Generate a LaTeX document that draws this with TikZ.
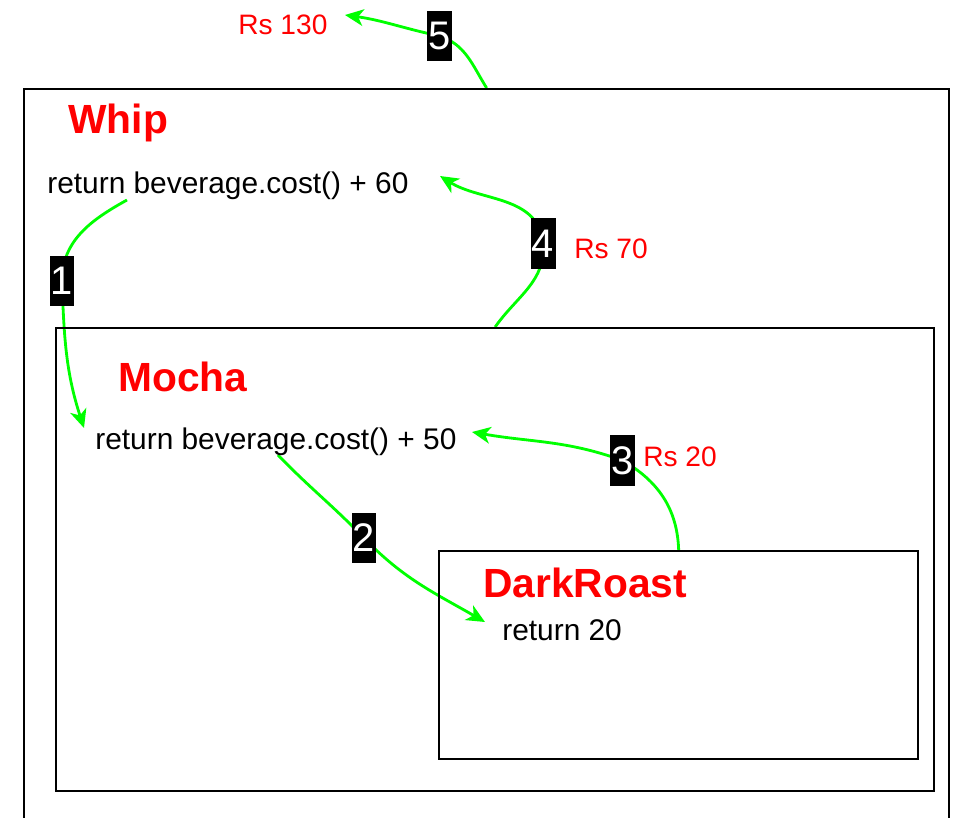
\documentclass[tikz,border=0pt]{standalone}
\usepackage{fontspec}
\setmainfont{Liberation Sans}
\usetikzlibrary{arrows.meta}
\pgfdeclarelayer{background}
\pgfsetlayers{background,main}
\definecolor{flowgreen}{RGB}{0,255,0}

\begin{document}
\begin{tikzpicture}[x=0.02cm,y=0.02cm,
  box/.style={draw=black,line width=1.4pt,inner sep=0pt,anchor=north west},
  title/.style={anchor=base west,inner sep=0pt,text=red,font=\fontsize{23.2}{28}\selectfont\bfseries},
  code/.style={anchor=base west,inner sep=0pt,font=\fontsize{17}{20}\selectfont},
  price/.style={anchor=base west,inner sep=0pt,text=red,font=\fontsize{16}{19}\selectfont},
  badge/.style={fill=black,text=white,inner sep=0pt,minimum width=0.5cm,minimum height=1.02cm,font=\fontsize{22.7}{27}\selectfont},
  flow/.style={draw=flowgreen,line width=1.6pt,-{Stealth[length=10.5pt,width=9.5pt,inset=3pt]}}]
\useasboundingbox (0,0) rectangle (958,-818);

% boxes
\node[box,minimum width=18.5cm,minimum height=14.84cm] (W) at (23,-88) {};
\node[box,minimum width=17.56cm,minimum height=9.26cm] (M) at (55,-327) {};
\node[box,minimum width=9.58cm,minimum height=4.16cm] (D) at (438,-550) {};

% texts
\node[title] (whip) at (68,-133) {Whip};
\node[code] (ret60) at (47,-193) {return beverage.cost() + 60};
\node[title] (mocha) at (118,-391) {Mocha};
\node[code] (ret50) at (95,-449) {return beverage.cost() + 50};
\node[title] (roast) at (483,-597) {DarkRoast};
\node[code] (ret20) at (502,-640) {return 20};

\node[price] (rs130) at (238,-34) {Rs 130};
\node[price] (rs70) at (574,-258) {Rs 70};
\node[price] (rs20) at (643,-466) {Rs 20};

% step numbers
\node[badge] (b1) at (62,-281) {1};
\node[badge] (b2) at (364,-538) {2};
\node[badge] (b3) at (622.5,-460.5) {3};
\node[badge] (b4) at (543,-243.5) {4};
\node[badge] (b5) at (439.5,-36) {5};

\coordinate (s1) at (127,-200);
\coordinate (s2) at (278,-455);
\coordinate (t1) at (84,-428);
\coordinate (t2) at (485,-622);
\coordinate (t3) at (472,-432);
\coordinate (t4) at (440,-176);
\coordinate (t5) at (345,-15);

\begin{pgfonlayer}{background}
\draw[flow] (s1) to[out=209,in=90] (b1.center) to[out=-88,in=108] (t1);
\draw[flow] (s2) to[out=-46,in=134] (b2.center) to[out=-46,in=150] (t2);
\draw[flow] (D.north) to[out=92,in=-30] (b3.center) to[out=160,in=-10] (t3);
\draw[flow] (M.north) to[out=55,in=-85] (b4.center) to[out=95,in=-32] (t4);
\draw[flow] (W.north) to[out=122,in=-18] (b5.center) to[out=168,in=-8] (t5);
\end{pgfonlayer}

\end{tikzpicture}
\end{document}
